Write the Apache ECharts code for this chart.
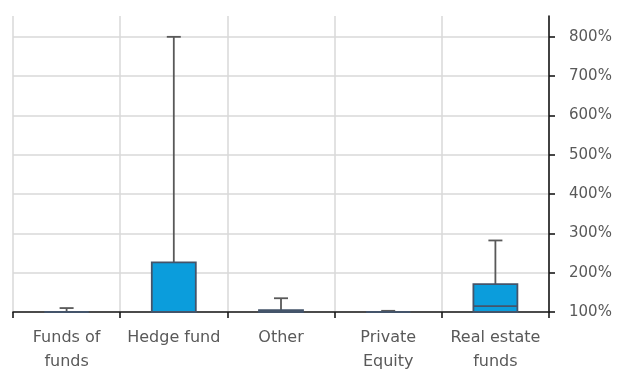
<!DOCTYPE html>
<html>
<head>
<meta charset="utf-8">
<script src="https://cdn.jsdelivr.net/npm/echarts@6/dist/echarts.min.js"></script>
<style>
  html, body { margin: 0; padding: 0; background: #fff; }
  #chart { width: 619px; height: 374px; }
</style>
</head>
<body>
<div id="chart"></div>
<script>
// Fund categories along the x axis
const categories = ['Funds of\nfunds', 'Hedge fund', 'Other', 'Private\nEquity', 'Real estate\nfunds'];
// Box statistics per category, in percent
const lowValues    = [100, 100, 100, 100, 100];
const q1Values     = [100, 100, 100, 100, 100];
const medianValues = [100, 100, 100, 100, 115];
const q3Values     = [100, 226, 105, 100, 171];
const highValues   = [110, 800, 135, 103, 282];
// Value axis ticks
const yTicks = [100, 200, 300, 400, 500, 600, 700, 800];

const boxData = categories.map((c, i) =>
  [i, lowValues[i], q1Values[i], medianValues[i], q3Values[i], highValues[i]]);

const BOX_W = 44, CAP_W = 14;

function renderBox(params, api) {
  const idx = api.value(0);
  const pLow = api.coord([idx, api.value(1)]);
  const pQ1 = api.coord([idx, api.value(2)]);
  const pMed = api.coord([idx, api.value(3)]);
  const pQ3 = api.coord([idx, api.value(4)]);
  const pHigh = api.coord([idx, api.value(5)]);
  const x = pQ1[0];
  const whisker = { stroke: '#595959', lineWidth: 1.8 };
  const children = [];
  // upper whisker + cap
  children.push({ type: 'line', shape: { x1: x, y1: pQ3[1], x2: x, y2: pHigh[1] }, style: whisker });
  children.push({ type: 'line', shape: { x1: x - CAP_W / 2, y1: pHigh[1], x2: x + CAP_W / 2, y2: pHigh[1] }, style: whisker });
  // lower whisker + cap
  if (pLow[1] - pQ1[1] > 0.5) {
    children.push({ type: 'line', shape: { x1: x, y1: pQ1[1], x2: x, y2: pLow[1] }, style: whisker });
    children.push({ type: 'line', shape: { x1: x - CAP_W / 2, y1: pLow[1], x2: x + CAP_W / 2, y2: pLow[1] }, style: whisker });
  }
  // box
  children.push({
    type: 'rect',
    shape: { x: x - BOX_W / 2, y: pQ3[1], width: BOX_W, height: pQ1[1] - pQ3[1] },
    style: { fill: '#0B9DDC', stroke: '#44546A', lineWidth: 1.8 }
  });
  // median
  children.push({ type: 'line', shape: { x1: x - BOX_W / 2, y1: pMed[1], x2: x + BOX_W / 2, y2: pMed[1] },
    style: { stroke: '#44546A', lineWidth: 1.8 } });
  return { type: 'group', children };
}

const chart = echarts.init(document.getElementById('chart'), null, { renderer: 'canvas' });
chart.setOption({
  animation: false,
  grid: { left: 13, right: 70, top: 16, bottom: 59 },
  xAxis: {
    type: 'category',
    data: categories,
    boundaryGap: true,
    axisLine: { show: true, onZero: false, lineStyle: { color: '#1a1a1a', width: 1.6 } },
    axisTick: { show: true, length: 6, inside: false, lineStyle: { color: '#1a1a1a', width: 1.6 } },
    axisLabel: { color: '#595959', fontSize: 16, fontFamily: 'DejaVu Sans', lineHeight: 24, margin: 14, interval: 0 },
    splitLine: { show: true, lineStyle: { color: '#d9d9d9', width: 1.5 } }
  },
  yAxis: {
    type: 'value',
    position: 'right',
    min: 100,
    max: 853,
    interval: 100,
    axisLine: { show: true, lineStyle: { color: '#1a1a1a', width: 1.6 } },
    axisTick: { show: true, length: 6, lineStyle: { color: '#1a1a1a', width: 1.6 } },
    axisLabel: {
      color: '#595959', fontSize: 15, fontFamily: 'DejaVu Sans', margin: 20,
      showMaxLabel: false,
      formatter: v => (yTicks.indexOf(v) >= 0 ? v + '%' : '')
    },
    splitLine: { show: true, showMaxLine: false, lineStyle: { color: '#d9d9d9', width: 1.5 } }
  },
  series: [{
    type: 'custom',
    renderItem: renderBox,
    encode: { x: 0, y: [1, 2, 3, 4, 5] },
    data: boxData,
    clip: false
  }]
});
</script>
</body>
</html>
